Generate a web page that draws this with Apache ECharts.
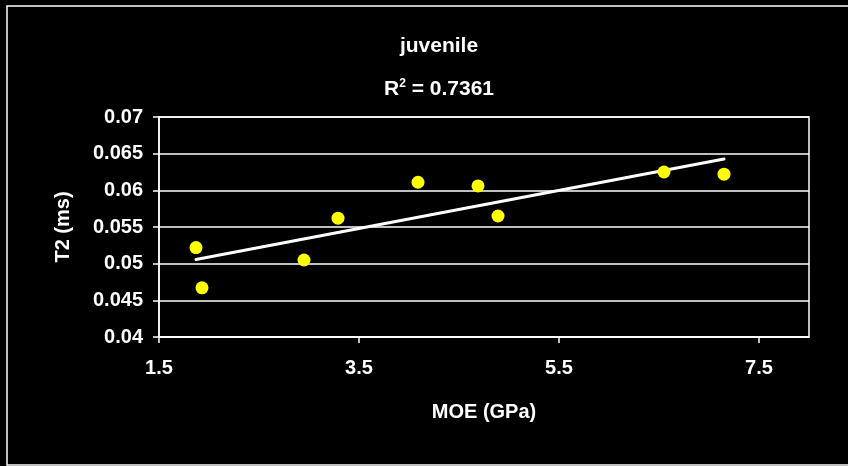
<!DOCTYPE html>
<html>
<head>
<meta charset="utf-8">
<style>
  html, body { margin: 0; padding: 0; background: #000; }
  #chart { width: 848px; height: 466px; }
</style>
<script src="https://cdn.jsdelivr.net/npm/echarts@6/dist/echarts.min.js"></script>
</head>
<body>
<div id="chart"></div>
<script>
// Juvenile wood samples: modulus of elasticity vs. T2 relaxation time
const moe = [1.87, 1.93, 2.95, 3.29, 4.09, 4.69, 4.89, 6.55, 7.15];
const t2 = [0.0522, 0.0467, 0.0505, 0.0562, 0.0611, 0.0606, 0.0565, 0.0625, 0.0622];
const xTicks = [1.5, 3.5, 5.5, 7.5];
const yTicks = [0.04, 0.045, 0.05, 0.055, 0.06, 0.065, 0.07];
const chartTitle = 'juvenile';
const rSquaredText = '0.7361';

// least-squares linear trendline over the sample range
function linearFit(xs, ys) {
  const n = xs.length;
  const mx = xs.reduce((a, b) => a + b, 0) / n;
  const my = ys.reduce((a, b) => a + b, 0) / n;
  let sxy = 0, sxx = 0;
  for (let i = 0; i < n; i++) {
    sxy += (xs[i] - mx) * (ys[i] - my);
    sxx += (xs[i] - mx) * (xs[i] - mx);
  }
  const slope = sxy / sxx;
  return { slope, intercept: my - slope * mx };
}
const fit = linearFit(moe, t2);
const xMin = Math.min(...moe), xMax = Math.max(...moe);
const trend = [[xMin, fit.intercept + fit.slope * xMin], [xMax, fit.intercept + fit.slope * xMax]];

const FONT = '"Liberation Sans", Arial, sans-serif';
const chart = echarts.init(document.getElementById('chart'), null, { renderer: 'canvas' });

chart.setOption({
  backgroundColor: '#000',
  animation: false,
  title: [
    {
      text: chartTitle,
      left: 434, top: 31, textAlign: 'center',
      textStyle: { color: '#fff', fontFamily: FONT, fontWeight: 'bold', fontSize: 21 }
    },
    {
      text: '{r|R}{s|2}{r| = ' + rSquaredText + '}',
      left: 434, top: 73, textAlign: 'center',
      textStyle: {
        rich: {
          r: { color: '#fff', fontFamily: FONT, fontWeight: 'bold', fontSize: 21, lineHeight: 23 },
          s: { color: '#fff', fontFamily: FONT, fontWeight: 'bold', fontSize: 12, verticalAlign: 'top', lineHeight: 23 }
        }
      }
    }
  ],
  graphic: [{
    type: 'rect',
    shape: { x: 7, y: 6, width: 870, height: 459 },
    style: { fill: 'none', stroke: '#fff', lineWidth: 1.5 },
    silent: true
  }],
  grid: {
    left: 159, top: 117, right: 39, bottom: 129,
    show: true, borderColor: '#fff', borderWidth: 1.5, backgroundColor: 'transparent'
  },
  xAxis: {
    type: 'value', min: 1.5, max: 8,
    name: 'MOE (GPa)', nameLocation: 'middle', nameGap: 65,
    nameTextStyle: { color: '#fff', fontFamily: FONT, fontWeight: 'bold', fontSize: 20 },
    axisLine: { show: true, lineStyle: { color: '#fff', width: 1.5 } },
    axisTick: { show: true, length: 6, lineStyle: { color: '#fff', width: 1.5 }, customValues: xTicks },
    axisLabel: {
      color: '#fff', fontFamily: FONT, fontWeight: 'bold', fontSize: 20, margin: 21,
      customValues: xTicks, formatter: v => v.toFixed(1)
    },
    splitLine: { show: false }
  },
  yAxis: {
    type: 'value', min: 0.04, max: 0.07, interval: 0.005,
    name: 'T2 (ms)', nameLocation: 'middle', nameGap: 86, nameRotate: 90,
    nameTextStyle: { color: '#fff', fontFamily: FONT, fontWeight: 'bold', fontSize: 20 },
    axisLine: { show: true, lineStyle: { color: '#fff', width: 1.5 } },
    axisTick: { show: true, length: 6, lineStyle: { color: '#fff', width: 1.5 }, customValues: yTicks },
    axisLabel: {
      color: '#fff', fontFamily: FONT, fontWeight: 'bold', fontSize: 20, margin: 16,
      customValues: yTicks, formatter: v => String(+v.toFixed(3))
    },
    splitLine: { show: true, lineStyle: { color: '#fff', width: 1.5 } }
  },
  series: [
    {
      type: 'line', data: trend, symbol: 'none', silent: true,
      lineStyle: { color: '#fff', width: 3, cap: 'round' }, z: 2
    },
    {
      type: 'scatter', data: moe.map((x, i) => [x, t2[i]]),
      symbol: 'circle', symbolSize: 13,
      itemStyle: { color: '#ffff00', opacity: 1 }, z: 3
    }
  ]
});
</script>
</body>
</html>
